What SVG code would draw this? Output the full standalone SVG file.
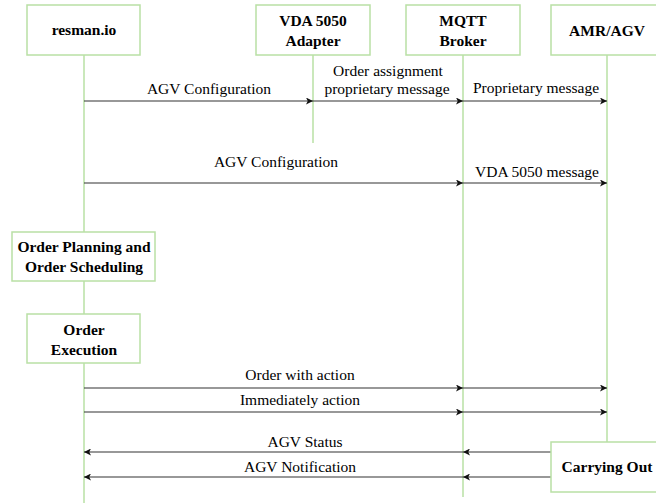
<svg xmlns="http://www.w3.org/2000/svg" width="656" height="503" viewBox="0 0 656 503">
<style>
.box{fill:#fff;stroke:#b9e0a5;stroke-width:1.5}
.life{stroke:#b9e0a5;stroke-width:1.5;fill:none}
.b{font-family:"Liberation Serif","Times New Roman",serif;font-weight:bold;font-size:15.5px;fill:#000;text-anchor:middle}
.t{font-family:"Liberation Serif","Times New Roman",serif;font-size:15.5px;fill:#000;text-anchor:middle}
.msg{stroke:#333;stroke-width:1.2;fill:none;marker-end:url(#ah)}
</style>
<defs>
<marker id="ah" viewBox="0 0 10 10" refX="10" refY="5" markerWidth="7" markerHeight="7" markerUnits="userSpaceOnUse" orient="auto">
<path d="M0,0 L10,5 L0,10 L2.5,5 Z" fill="#111"/>
</marker>
</defs>
<g id="lifelines">
<line class="life" x1="84" y1="55" x2="84" y2="503"/>
<line class="life" x1="313" y1="55" x2="313" y2="143"/>
<line class="life" x1="463" y1="55" x2="463" y2="497"/>
<line class="life" x1="607" y1="55" x2="607" y2="442"/>
</g>
<g id="connectors">
<path class="msg" d="M84,101 H313"/>
<path class="msg" d="M313,101 H463"/>
<path class="msg" d="M463,101 H607"/>
<path class="msg" d="M84,183 H463"/>
<path class="msg" d="M463,183 H607"/>
<path class="msg" d="M84,388 H463"/>
<path class="msg" d="M463,388 H607"/>
<path class="msg" d="M84,412 H463"/>
<path class="msg" d="M463,412 H607"/>
<path class="msg" d="M551,452 H463"/>
<path class="msg" d="M463,452 H84"/>
<path class="msg" d="M551,477 H463"/>
<path class="msg" d="M463,477 H84"/>
<text class="t" x="209" y="94">AGV Configuration</text>
<text class="t" x="388" y="76">Order assignment</text>
<text class="t" x="387" y="94">proprietary message</text>
<text class="t" x="536" y="93">Proprietary message</text>
<text class="t" x="276" y="167">AGV Configuration</text>
<text class="t" x="537" y="177">VDA 5050 message</text>
<text class="t" x="300" y="380">Order with action</text>
<text class="t" x="300" y="405">Immediately action</text>
<text class="t" x="305" y="447">AGV Status</text>
<text class="t" x="300" y="472">AGV Notification</text>
</g>
<g id="resman">
<rect class="box" x="27" y="5" width="113" height="50"/>
<text class="b" x="84" y="35">resman.io</text>
</g>
<g id="vda-adapter">
<rect class="box" x="256" y="5" width="114" height="50"/>
<text class="b" x="313" y="26">VDA 5050</text>
<text class="b" x="313" y="46">Adapter</text>
</g>
<g id="mqtt-broker">
<rect class="box" x="406" y="5" width="114" height="50"/>
<text class="b" x="463" y="26">MQTT</text>
<text class="b" x="463" y="46">Broker</text>
</g>
<g id="amr-agv">
<rect class="box" x="551" y="5" width="113" height="50"/>
<text class="b" x="607" y="36">AMR/AGV</text>
</g>
<g id="order-planning">
<rect class="box" x="12" y="232" width="143" height="49"/>
<text class="b" x="84" y="252">Order Planning and</text>
<text class="b" x="84" y="272">Order Scheduling</text>
</g>
<g id="order-execution">
<rect class="box" x="27" y="314" width="113" height="49"/>
<text class="b" x="84" y="335">Order</text>
<text class="b" x="84" y="355">Execution</text>
</g>
<g id="carrying-out">
<rect class="box" x="551" y="442" width="113" height="50"/>
<text class="b" x="607" y="472">Carrying Out</text>
</g>
</svg>
